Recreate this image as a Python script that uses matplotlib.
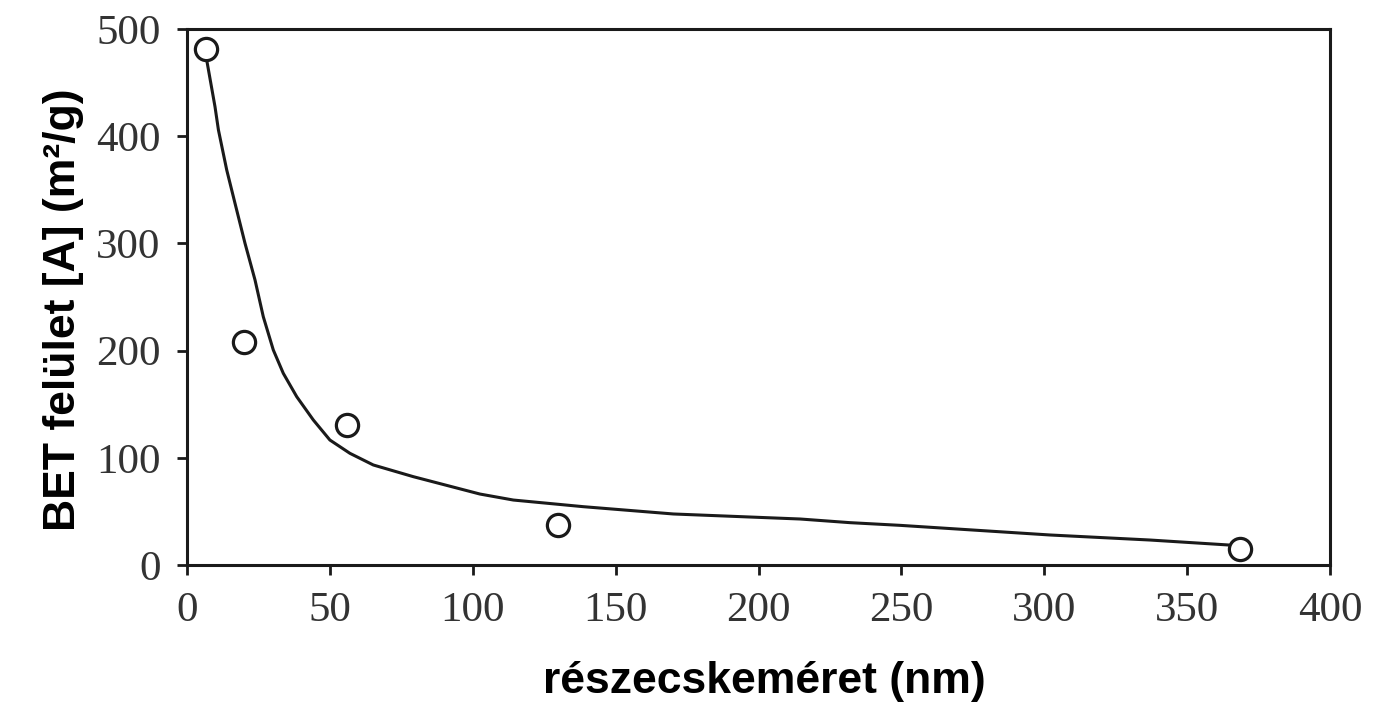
import matplotlib
matplotlib.use("Agg")
import matplotlib.pyplot as plt

# measured points
meret = [6.6, 20, 56, 130, 368.5]
bet = [481, 208, 131, 37, 15]

# trend curve
gorbe_x = [6.9, 9.8, 11.0, 13.9, 16.8, 20.3, 23.8, 26.7, 30.2, 33.7, 38.4, 44.2,
           50.0, 57.0, 65.2, 79.2, 102.5, 114.2, 138.7, 170.2, 214.6, 232.0,
           249.5, 302.0, 337.0, 364.3]
gorbe_y = [471, 427.5, 405.8, 368.5, 337.4, 300.1, 265.9, 231.6, 200.6, 178.8,
           157.0, 135.3, 116.6, 104.2, 93.3, 82.4, 66.2, 60.6, 54.4, 47.6, 42.9,
           39.5, 37.0, 28.0, 23.3, 18.7]

fig = plt.figure(figsize=(13.91, 7.04), dpi=100)
ax = fig.add_axes([187 / 1391, 1 - 565 / 704, 1143 / 1391, 536 / 704])

ax.plot(gorbe_x, gorbe_y, color='#1a1a1a', lw=2.2, solid_joinstyle='round')
ax.plot(meret, bet, 'o', ms=16, mfc='white', mec='#1a1a1a', mew=2.3)

ax.set_xlim(0, 400)
ax.set_ylim(0, 500)
ax.set_xticks(range(0, 401, 50))
ax.set_yticks(range(0, 501, 100))
ax.tick_params(direction='out', length=7, width=2, colors='#1a1a1a',
               labelsize=31, pad=12)
for lab in ax.get_xticklabels() + ax.get_yticklabels():
    lab.set_fontfamily('Liberation Serif')
    lab.set_color('#333333')
for s in ax.spines.values():
    s.set_linewidth(2.2)
    s.set_color('#1a1a1a')

ax.set_xlabel('részecskeméret (nm)', fontsize=32, fontweight='bold',
              family='Liberation Sans')
ax.set_ylabel('BET felület [A] (m²/g)', fontsize=32, fontweight='bold',
              family='Liberation Sans')
ax.xaxis.set_label_coords(0.505, -0.18)
ax.yaxis.set_label_coords(-0.09, 0.476)

fig.savefig('out.png', dpi=100)
